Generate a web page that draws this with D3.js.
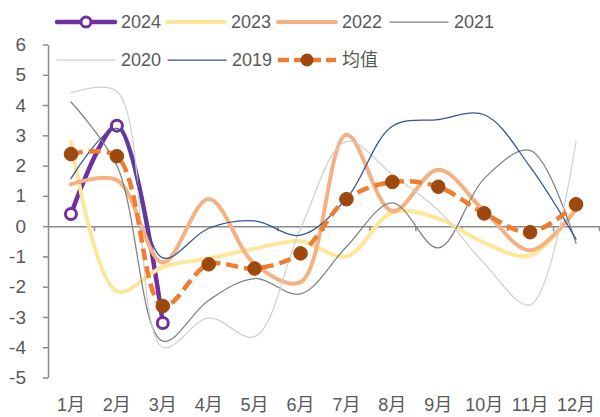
<!DOCTYPE html>
<html><head><meta charset="utf-8">
<script src="https://cdn.jsdelivr.net/npm/d3@7"></script>
<style>body{margin:0;background:#fff}svg{display:block}</style>
</head><body>
<svg id="c" width="600" height="417"></svg>
<script>
const months = ["1月","2月","3月","4月","5月","6月","7月","8月","9月","10月","11月","12月"];
const yTicks = [6,5,4,3,2,1,0,-1,-2,-3,-4,-5];
const s2024 = [0.4, 3.32, -3.2];
const s2023 = [2.8, -2.15, -1.35, -1.07, -0.74, -0.5, -1.0, 0.45, 0.25, -0.55, -0.97, 0.6];
const s2022 = [1.38, 1.52, -1.2, 0.9, -1.25, -1.85, 3.02, 0.5, 1.86, 0.5, -0.8, 0.55];
const s2021 = [4.1, 2.0, -3.8, -2.45, -1.73, -2.24, -0.68, 0.77, -0.72, 1.57, 2.5, -0.57];
const s2020 = [4.4, 4.45, -4.0, -3.03, -3.65, -0.08, 2.8, 1.7, 0.52, -1.23, -2.6, 2.8];
const s2019 = [1.57, 3.23, -1.05, -0.07, 0.17, -0.3, 0.91, 3.3, 3.52, 3.68, 1.96, -0.43];
const sMean = [2.38, 2.31, -2.64, -1.26, -1.4, -0.9, 0.89, 1.46, 1.3, 0.42, -0.2, 0.72];

const series = [
  {name:"2024", data:s2024, color:"#7030A0", width:4.5, marker:"open"},
  {name:"2023", data:s2023, color:"#FFE699", width:4},
  {name:"2022", data:s2022, color:"#F4B183", width:4},
  {name:"2021", data:s2021, color:"#808080", width:1.25},
  {name:"2020", data:s2020, color:"#D0D0D0", width:1.25},
  {name:"2019", data:s2019, color:"#2F5597", width:1.25},
  {name:"均值", data:sMean, color:"#ED7D31", width:4.5, dash:"12,6", marker:"fill"}
];

const svg = d3.select("#c");
const font = "Arial, 'Liberation Sans', 'Noto Sans CJK SC', sans-serif";
const txt = "#595959";
const axisCol = "#8C8C8C";

const x = d3.scalePoint().domain(months).range([48, 599]).padding(0.5);
const y = d3.scaleLinear().domain([-5, 6]).range([377.5, 44.5]);

// y axis
const yAxis = d3.axisLeft(y).tickValues(yTicks).tickSize(5).tickSizeOuter(0).tickPadding(17).tickFormat(d3.format("d"));
const gy = svg.append("g").attr("transform","translate(48,0)").call(yAxis);
gy.select(".domain").attr("stroke", axisCol).attr("stroke-width",1.5);
gy.selectAll(".tick line").attr("stroke", axisCol).attr("stroke-width",1.5);
gy.selectAll(".tick text").attr("fill", txt).style("font-family", font).style("font-size","19px").text(d => d < 0 ? "-" + Math.abs(d) : d);

// x axis at zero
const step = x.step();
const xb = d3.scaleLinear().domain([0, 12]).range([48, 48 + step*12]);
const gx = svg.append("g").attr("transform", `translate(0,${y(0)})`)
  .call(d3.axisBottom(xb).tickValues(d3.range(1,13)).tickSize(5).tickSizeOuter(0).tickFormat(""));
gx.select(".domain").attr("stroke", axisCol).attr("stroke-width",1.5);
gx.selectAll(".tick line").attr("stroke", axisCol).attr("stroke-width",1.5);

// month labels
svg.append("g").selectAll("text").data(months).join("text")
  .attr("x", d => x(d)).attr("y", 405)
  .attr("text-anchor","middle").attr("dominant-baseline","central")
  .attr("fill", txt).style("font-family", font).style("font-size","18px")
  .text(d => d);

const line = d3.line().x((d,i) => x(months[i])).y(d => y(d)).curve(d3.curveCatmullRom.alpha(0.5));

series.forEach(s => {
  const g = svg.append("g");
  g.append("path").datum(s.data).attr("d", line)
    .attr("fill","none").attr("stroke", s.color).attr("stroke-width", s.width)
    .attr("stroke-linejoin","round").attr("stroke-linecap", s.dash ? "butt" : "round")
    .attr("stroke-dasharray", s.dash || null);
  if (s.marker === "open") {
    g.selectAll("circle").data(s.data).join("circle")
      .attr("cx",(d,i)=>x(months[i])).attr("cy", d=>y(d)).attr("r",5.5)
      .attr("fill","#fff").attr("stroke", s.color).attr("stroke-width",3);
  } else if (s.marker === "fill") {
    g.selectAll("circle").data(s.data).join("circle")
      .attr("cx",(d,i)=>x(months[i])).attr("cy", d=>y(d)).attr("r",6.8)
      .attr("fill","#9E480E").attr("stroke","#9E480E").attr("stroke-width",1);
  }
});

// legend
const legendPos = [
  {x:57, y:22}, {x:167, y:22}, {x:278, y:22}, {x:390, y:22},
  {x:57, y:60}, {x:168, y:60}, {x:278, y:60}
];
series.forEach((s, i) => {
  const p = legendPos[i];
  const g = svg.append("g").attr("transform", `translate(${p.x},${p.y})`);
  g.append("line").attr("x1",0).attr("x2",58).attr("y1",0).attr("y2",0)
    .attr("stroke", s.color).attr("stroke-width", s.width)
    .attr("stroke-linecap", s.dash ? "butt" : "round")
    .attr("stroke-dasharray", s.dash ? "11,5" : null);
  if (s.marker === "open") {
    g.append("circle").attr("cx",29).attr("cy",0).attr("r",5)
      .attr("fill","#fff").attr("stroke", s.color).attr("stroke-width",3);
  } else if (s.marker === "fill") {
    g.append("circle").attr("cx",29).attr("cy",0).attr("r",6.5).attr("fill","#9E480E");
  }
  g.append("text").attr("x",64).attr("y",0).attr("dominant-baseline","central")
    .attr("fill", txt).style("font-family", font).style("font-size","18px").text(s.name);
});
</script>
</body></html>
